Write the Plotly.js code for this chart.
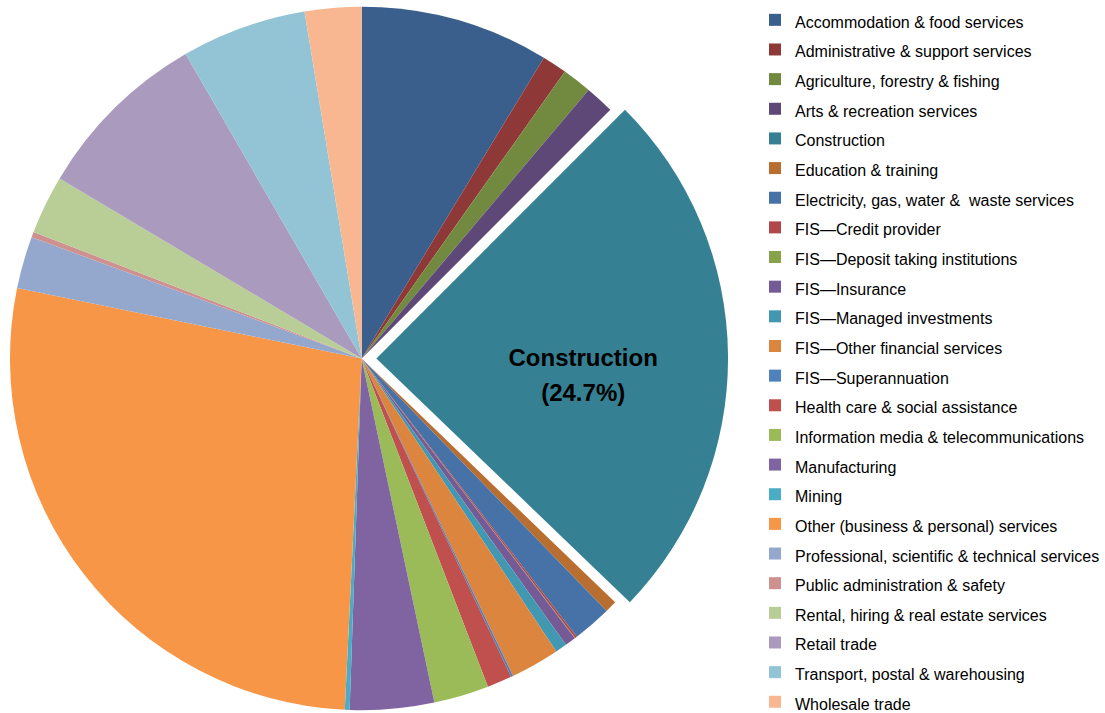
<!DOCTYPE html>
<html>
<head>
<meta charset="utf-8">
<script src="https://cdn.plot.ly/plotly-3.0.1.min.js"></script>
<style>html,body{margin:0;padding:0;background:#fff;}#chart{width:1105px;height:713px;}</style>
</head>
<body>
<div id="chart"></div>
<script>
const labels = [
  "Accommodation & food services",
  "Administrative & support services",
  "Agriculture, forestry & fishing",
  "Arts & recreation services",
  "Construction",
  "Education & training",
  "Electricity, gas, water &  waste services",
  "FIS\u2014Credit provider",
  "FIS\u2014Deposit taking institutions",
  "FIS\u2014Insurance",
  "FIS\u2014Managed investments",
  "FIS\u2014Other financial services",
  "FIS\u2014Superannuation",
  "Health care & social assistance",
  "Information media & telecommunications",
  "Manufacturing",
  "Mining",
  "Other (business & personal) services",
  "Professional, scientific & technical services",
  "Public administration & safety",
  "Rental, hiring & real estate services",
  "Retail trade",
  "Transport, postal & warehousing",
  "Wholesale trade"
];
const shares = [8.67, 1.14, 1.36, 1.33, 24.7, 0.55, 1.78, 0.1, 0.02, 0.5, 0.53, 2.25, 0.1, 1.14, 2.53, 3.86, 0.22, 27.45, 2.4, 0.25, 2.7, 8.1, 5.75, 2.6];
const colors = ["#3B5F8C", "#8E3937", "#728A3F", "#5D4878", "#368093", "#B86E31", "#4672A8", "#B0474A", "#87A34A", "#745B95", "#4398B1", "#DC853E", "#4F81BD", "#C0504D", "#9BBB59", "#8064A2", "#4BACC6", "#F79646", "#94A8CE", "#CF9190", "#B9CD97", "#AA9ABE", "#93C4D6", "#F9B791"];
const highlight = "Construction";

const W = 1105, H = 713;
const cx = 362, cy = 358.5, R = 352, pullPx = 14.7;
const hi = labels.indexOf(highlight);
const total = shares.reduce((a, b) => a + b, 0);
const pct = (shares[hi] / total * 100).toFixed(1);

const legendLabels = labels.map(l => '<span style="font-size:16px">' + l + '</span>');
const clear = 'rgba(0,0,0,0)';

function dom(dx) {
  return {
    x: [(cx - R + dx) / W, (cx + R + dx) / W],
    y: [(H - cy - R) / H, (H - cy + R) / H]
  };
}

const base = {
  type: 'pie',
  labels: legendLabels,
  values: shares,
  sort: false,
  direction: 'clockwise',
  rotation: 0,
  hoverinfo: 'none'
};

// main pie, highlighted slice left empty
const trace1 = Object.assign({}, base, {
  domain: dom(0),
  marker: { colors: colors.map((c, i) => i === hi ? clear : c), line: { width: 0 } },
  textinfo: 'none',
  showlegend: false
});

// highlighted (exploded) slice
const lbl = s => '<span style="font-size:24px">' + s + '</span>';
const trace2 = Object.assign({}, base, {
  domain: dom(pullPx),
  marker: { colors: colors.map((c, i) => i === hi ? c : clear), line: { width: 0 } },
  text: labels.map((l, i) => i === hi ? '<b>\u00A0<br>' + lbl(l) + '<br>' + lbl('(' + pct + '%)') + '</b>' : ''),
  textinfo: 'text',
  textposition: labels.map((l, i) => i === hi ? 'inside' : 'none'),
  insidetextorientation: 'horizontal',
  insidetextfont: { family: 'Liberation Sans, Arial, sans-serif', size: 27, color: '#000000' },
  showlegend: false
});

// legend carrier (invisible tiny pie)
const trace3 = Object.assign({}, base, {
  domain: { x: [0, 0.00005], y: [0, 0.00005] },
  marker: { colors: colors, line: { width: 0 } },
  textinfo: 'none',
  showlegend: true
});

const layout = {
  width: W,
  height: H,
  margin: { l: 0, r: 0, t: 0, b: 0 },
  paper_bgcolor: '#ffffff',
  showlegend: true,
  legend: {
    x: 756 / W,
    xanchor: 'left',
    y: 0.999,
    yanchor: 'top',
    traceorder: 'normal',
    font: { family: 'Liberation Sans, Arial, sans-serif', size: 20.5, color: '#000000' },
    bgcolor: 'rgba(0,0,0,0)'
  }
};

Plotly.newPlot('chart', [trace1, trace2, trace3], layout, { displayModeBar: false, staticPlot: true });
</script>
</body>
</html>
